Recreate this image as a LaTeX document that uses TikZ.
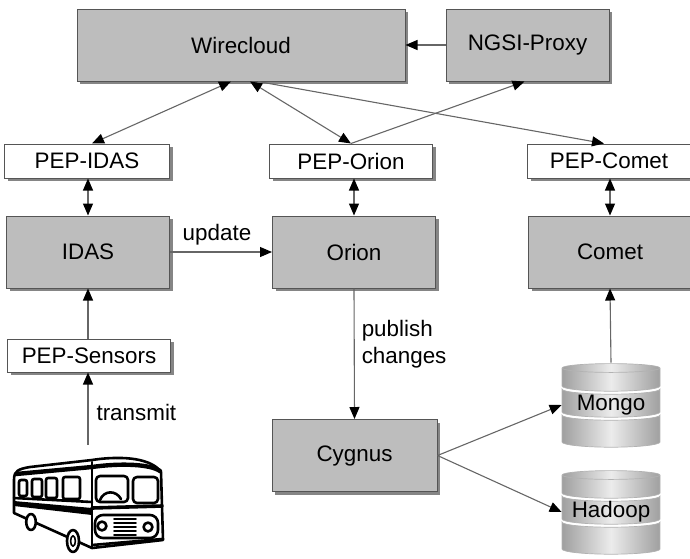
\documentclass[tikz,border=0pt]{standalone}
\usepackage{fontspec}
\setmainfont{Liberation Sans}
\usetikzlibrary{arrows.meta,shadows,calc}
\definecolor{boxfill}{HTML}{BDBDBD}
\definecolor{edgegray}{HTML}{555555}
\definecolor{shadowgray}{HTML}{858585}
\begin{document}
\begin{tikzpicture}[x=0.5pt,y=-0.5pt,
  lbl/.style={font=\fontsize{11.2pt}{13.5pt}\selectfont},
  base/.style={lbl, rectangle, draw=edgegray, line width=0.5pt, inner sep=0pt,
    drop shadow={shadow xshift=1.6pt, shadow yshift=-1.6pt, fill=shadowgray, opacity=1}},
  svc/.style={base, fill=boxfill, minimum width=81.5pt, minimum height=36pt},
  pep/.style={base, fill=white, minimum width=81.5pt, minimum height=17pt},
  conn/.style={draw=black!60, line width=0.55pt},
  onehead/.style={-{Triangle[length=6pt,width=5pt,color=black]}},
  twoway/.style={{Triangle[length=6pt,width=5pt,color=black]}-{Triangle[length=6pt,width=5pt,color=black]}},
  seg/.style={left color=gray!75, right color=gray!75, middle color=gray!15,
    draw=gray!60, line width=0.35pt},
  busline/.style={line width=1.3pt, line join=round, line cap=round}
]
\useasboundingbox (0,0) rectangle (690,558);

% service boxes
\node[svc, minimum width=164pt] (wire) at (241,45) {Wirecloud};
\node[svc] (ngsi) at (527.5,45) {NGSI-Proxy};
\node[pep, minimum width=82.5pt] (pepidas) at (87,161) {PEP-IDAS};
\node[pep] (peporion) at (351,161) {PEP-Orion};
\node[pep] (pepcomet) at (609,161) {PEP-Comet};
\node[svc] (idas) at (88,252) {IDAS};
\node[svc] (orion) at (354,252) {Orion};
\node[svc] (comet) at (610,252) {Comet};
\node[pep, minimum height=16.5pt] (pepsens) at (89,355.5) {PEP-Sensors};
\node[svc, minimum width=82.5pt] (cygnus) at (354.5,455.5) {Cygnus};

% database stacks
\foreach \nm/\cx/\cy/\lab in {mongo/611/405/Mongo, hadoop/611/512/Hadoop}{
  \path[seg] ({\cx-49},{\cy-37}) -- ({\cx-49},{\cy-19})
    arc[start angle=180, end angle=360, x radius=24.5pt, y radius=2.6pt]
    -- ({\cx+49},{\cy-37})
    arc[start angle=0, end angle=180, x radius=24.5pt, y radius=2.2pt] -- cycle;
  \draw[gray!60, line width=0.35pt] ({\cx-49},{\cy-37})
    arc[start angle=180, end angle=360, x radius=24.5pt, y radius=2.2pt];
  \path[seg] ({\cx-49},{\cy-16}) -- ({\cx-49},{\cy+7})
    arc[start angle=180, end angle=360, x radius=24.5pt, y radius=2.6pt]
    -- ({\cx+49},{\cy-16})
    arc[start angle=0, end angle=-180, x radius=24.5pt, y radius=2.6pt] -- cycle;
  \path[seg] ({\cx-49},{\cy+10}) -- ({\cx-49},{\cy+37})
    arc[start angle=180, end angle=360, x radius=24.5pt, y radius=2.6pt]
    -- ({\cx+49},{\cy+10})
    arc[start angle=0, end angle=-180, x radius=24.5pt, y radius=2.6pt] -- cycle;
  \node[lbl, inner sep=0pt, minimum width=49pt, minimum height=42pt] (\nm) at (\cx,\cy) {\lab};
}

% the bus, seen from the front-left corner
\begin{scope}[busline]
  \draw[fill=white] (14,480) .. controls (14,471) and (18,469) .. (30,467) -- (92,460)
     .. controls (125,455) and (152,459) .. (161,472) -- (163,540) -- (92,548)
     -- (14,513) -- cycle;
  \draw[line width=2.2pt] (16,474) -- (92,467) .. controls (120,463) and (150,464) .. (160,471);
  \draw (92,462) -- (92,548);
  \draw (14,498) -- (92,502);
  \fill (14,501) -- (92,508) -- (92,515) -- (14,506) -- cycle;
  \draw[rounded corners=1pt] (19,480) rectangle (27,496);
  \draw[rounded corners=1pt] (32,479) rectangle (42,497);
  \draw[rounded corners=1pt] (46,478) rectangle (57,498);
  \draw[rounded corners=1pt] (63,477) rectangle (80,499);
  \draw[rounded corners=2pt] (96,476) rectangle (128,502);
  \draw[rounded corners=2pt] (133,477) rectangle (158,503);
  \draw (100,500) .. controls (104,490) and (116,490) .. (121,499);
  \draw[line width=1.8pt] (92,508) -- (162,506);
  \draw[rounded corners=4pt] (95,515) rectangle (158,538);
  \draw (102,526) circle[radius=2.2pt];
  \draw (148,527) circle[radius=2.2pt];
  \foreach \yy in {519,523,527,531,535}{\draw[line width=0.8pt] (114,\yy) -- (136,\yy);}
  \draw (92,545) -- (162,539);
  \draw[fill=white] (31,522) ellipse[x radius=2.4pt, y radius=4pt];
  \draw[fill=white] (73,541) ellipse[x radius=3pt, y radius=5.5pt];
  \draw[line width=0.8pt] (73,541) ellipse[x radius=1.2pt, y radius=2.6pt];
\end{scope}
\node[inner sep=0pt, minimum width=78pt, minimum height=56pt] (bus) at (88,501) {};

% connectors
\draw[conn,onehead] (ngsi.west) -- (wire.east);
\draw[conn,twoway] ([xshift=2.5pt]pepidas.north) -- ([xshift=-5pt]wire.south);
\draw[conn,twoway] (peporion.north) -- ([xshift=4.5pt]wire.south);
\draw[conn,onehead] (peporion.north) -- ([xshift=-1.5pt]ngsi.south);
\draw[conn,onehead] ([xshift=8.5pt]wire.south) -- ([xshift=-2.5pt]pepcomet.north);
\draw[conn,twoway] (idas.north |- pepidas.south) -- (idas.north);
\draw[conn,twoway] (orion.north |- peporion.south) -- (orion.north);
\draw[conn,twoway] (comet.north |- pepcomet.south) -- (comet.north);
\draw[conn,onehead] (idas.east) -- node[lbl, above, inner sep=3pt, xshift=-2pt] {update} (orion.west);
\draw[conn,onehead] (idas.south |- pepsens.north) -- (idas.south);
\draw[conn,onehead] (bus.north) -- node[lbl, right, pos=0.44, inner sep=4pt] {transmit} (idas.south |- pepsens.south);
\draw[conn,onehead] (orion.south) -- node[lbl, right, align=left, pos=0.43, inner sep=3.5pt] {publish\\changes} (cygnus.north);
\draw[conn,onehead] (cygnus.east) -- (mongo.west);
\draw[conn,onehead] (cygnus.east) -- (hadoop.west);
\draw[conn,onehead] (mongo.north) -- (comet.south);
\end{tikzpicture}
\end{document}
